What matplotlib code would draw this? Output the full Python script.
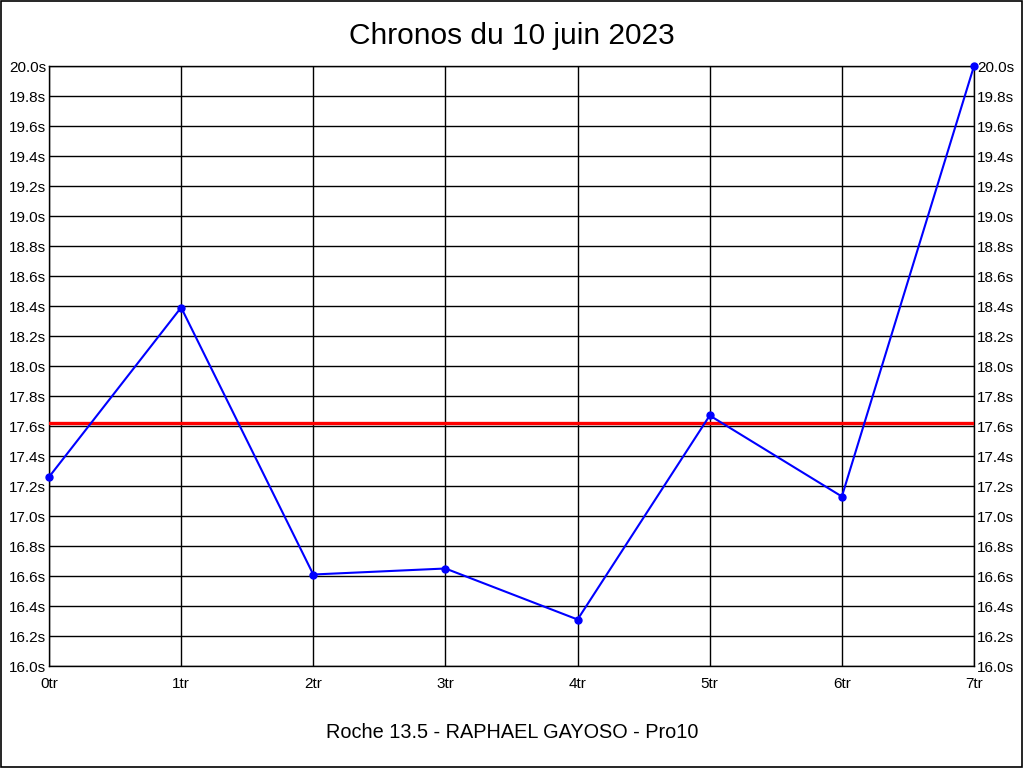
import matplotlib
matplotlib.use("Agg")
import matplotlib.pyplot as plt
from matplotlib.patches import Rectangle

plt.rcParams['font.family'] = ['Liberation Sans', 'DejaVu Sans']

# data
laps = ["0tr", "1tr", "2tr", "3tr", "4tr", "5tr", "6tr", "7tr"]
times = [17.26, 18.39, 16.61, 16.65, 16.31, 17.67, 17.13, 20.0]
ref_time = 17.62
y_ticks = [16.0 + 0.2 * i for i in range(21)]
y_labels = ["%.1fs" % v for v in y_ticks]

fig = plt.figure(figsize=(10.24, 7.68), dpi=100)
ax = fig.add_axes([49 / 1024, 1 - 666 / 768, 925 / 1024, 600 / 768])

x = list(range(len(laps)))
ax.axhline(ref_time, color="#ff0000", lw=2.4, zorder=3)
ax.plot(x, times, color="#0000ff", lw=1.5, marker="o", ms=5, zorder=4, clip_on=False)

ax.set_xlim(0, len(laps) - 1)
ax.set_ylim(16.0, 20.0)
ax.set_xticks(x)
ax.set_xticklabels(laps)
ax.set_yticks(y_ticks)
ax.set_yticklabels(y_labels)
ax.tick_params(axis="both", length=0, labelsize=11, colors="black")
ax.tick_params(axis="y", labelleft=True, labelright=True, pad=2)
ax.tick_params(axis="x", pad=8)
ax.grid(True, color="black", lw=1)
for s in ax.spines.values():
    s.set_color("black")
    s.set_linewidth(1)

fig.text(0.5, 1 - 36 / 768, "Chronos du 10 juin 2023", ha="center", va="center", fontsize=21.5)
fig.text(0.5, 1 - 733 / 768, "Roche 13.5 - RAPHAEL GAYOSO - Pro10", ha="center", va="center", fontsize=14.3)

# frame around the whole picture
fig.patches.append(Rectangle((0.0005, 0.0007), 0.998, 0.998, transform=fig.transFigure,
                             fill=False, edgecolor="black", lw=1.2))

fig.savefig("out.png", dpi=100)
